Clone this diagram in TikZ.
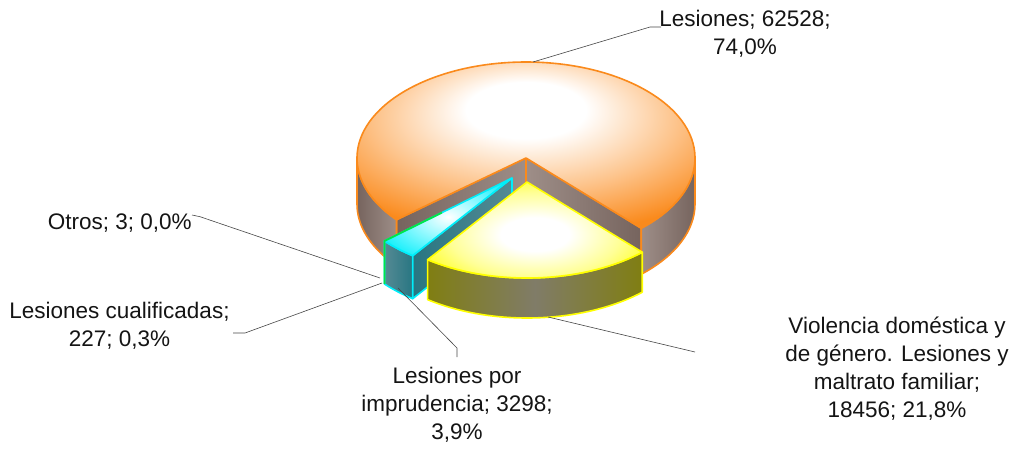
\documentclass[tikz,border=0pt]{standalone}
\usepackage{fontspec}
\setmainfont{Liberation Sans}
\usetikzlibrary{calc}

\definecolor{orgA}{RGB}{250,138,28}
\definecolor{orgM}{RGB}{253,196,140}
\definecolor{orgS}{RGB}{118,100,94}
\definecolor{orgSL}{RGB}{158,142,136}
\definecolor{yelA}{RGB}{255,255,0}
\definecolor{yelM}{RGB}{255,255,150}
\definecolor{yelS}{RGB}{128,126,18}
\definecolor{yelSL}{RGB}{128,124,104}
\definecolor{cyaA}{RGB}{0,238,250}
\definecolor{cyaM}{RGB}{160,250,255}
\definecolor{cyaS}{RGB}{40,118,130}
\definecolor{cyaSL}{RGB}{85,138,148}
\definecolor{grnA}{RGB}{0,230,70}
\definecolor{leadc}{RGB}{70,70,70}
\definecolor{txt}{RGB}{20,20,20}

\pgfdeclareradialshading{orgtop}{\pgfpoint{0bp}{10bp}}{color(0bp)=(white); color(8bp)=(white); color(20bp)=(orgM); color(31bp)=(orgA); color(50bp)=(orgA)}
\pgfdeclareradialshading{yeltop}{\pgfpoint{0bp}{0bp}}{color(0bp)=(white); color(8bp)=(white); color(20bp)=(yelM); color(32bp)=(yelA); color(50bp)=(yelA)}
\pgfdeclareradialshading{cyatop}{\pgfpoint{0bp}{0bp}}{color(0bp)=(white); color(12bp)=(cyaM); color(32bp)=(cyaA); color(50bp)=(cyaA)}

\tikzset{
  lbl/.style={font=\fontsize{22.5pt}{28pt}\selectfont, align=center, inner sep=0pt, text=txt},
  leader/.style={draw=leadc, line width=0.6pt},
  glowo/.style={draw=orgA, line width=1.6pt, line join=round},
  glowy/.style={draw=yelA, line width=1.6pt, line join=round},
  glowc/.style={draw=cyaA, line width=1.6pt, line join=round},
  ell/.style={x radius=169, y radius=96},
}

\begin{document}
\begin{tikzpicture}[x=1pt,y=1pt]
\useasboundingbox (0,0) rectangle (1011,-450);

% ---------- orange slice (Lesiones) ----------
\coordinate (O) at (526,-158);
\coordinate (Od) at (526,-204);
\path (O) ++(-47:169 and 96) coordinate (OR);
\path (O) ++(220:169 and 96) coordinate (OL);
\path (O) ++(180:169 and 96) coordinate (OW);
% radial faces
\shade[left color=orgSL, right color=orgS, glowo] (O) -- (OR) -- ++(0,-46) -- (Od) -- cycle;
\shade[left color=orgS, right color=orgSL, glowo] (O) -- (OL) -- ++(0,-46) -- (Od) -- cycle;
% outer curved sides
\shade[left color=orgS, right color=orgSL, glowo] (OW) arc[start angle=180, end angle=220, ell] -- ++(0,-46) arc[start angle=220, end angle=180, ell] -- cycle;
\shade[left color=orgSL, right color=orgS, glowo] (OR) arc[start angle=-47, end angle=0, ell] -- ++(0,-46) arc[start angle=0, end angle=-47, ell] -- cycle;
% top
\path[shading=orgtop, glowo] (O) -- (OR) arc[start angle=-47, end angle=220, ell] -- cycle;

% ---------- cyan slice (imprudencia) ----------
\coordinate (C) at (512,-178);
\coordinate (Cd) at (512,-221);
\path (C) ++(-139:169 and 96) coordinate (CL);
\path (C) ++(-126:169 and 96) coordinate (CR);
\shade[left color=cyaS, right color=cyaSL, glowc] (C) -- (CR) -- ++(0,-43) -- (Cd) -- cycle;
\shade[left color=cyaSL, right color=cyaS, glowc] (CL) arc[start angle=-139, end angle=-126, ell] -- ++(0,-43) arc[start angle=-126, end angle=-139, ell] -- cycle;
\path[shading=cyatop, glowc] (C) -- (CL) arc[start angle=-139, end angle=-126, ell] -- cycle;
% green thin slice (cualificadas / otros)
\draw[grnA, line width=1.8pt, line join=round] ($(C)!0.55!(CL)$) -- (CL) -- ++(0,-43);

% ---------- yellow slice (Violencia) ----------
\coordinate (Y) at (527,-182);
\path (Y) ++(-126:169 and 96) coordinate (YL);
\path (Y) ++(-47:169 and 96) coordinate (YR);
\shade[left color=yelS, right color=yelS, middle color=yelSL, glowy] (YL) arc[start angle=-126, end angle=-47, ell] -- ++(0,-40) arc[start angle=-47, end angle=-126, ell] -- cycle;
\path[shading=yeltop, glowy] (Y) -- (YL) arc[start angle=-126, end angle=-47, ell] -- cycle;

% ---------- labels ----------
\node[lbl] (t1) at (745,-34) {Lesiones; 62528;\\74,0\%};
\node[lbl] (t2) at (119.7,-222.7) {Otros; 3; 0,0\%};
\node[lbl] (t3) at (119.5,-326) {Lesiones cualificadas;\\227; 0,3\%};
\node[lbl] (t4) at (457,-405) {Lesiones por\\imprudencia; 3298;\\3,9\%};
\node[lbl] (t5) at (897,-369) {Violencia doméstica y\\de género. Lesiones y\\maltrato familiar;\\18456; 21,8\%};

% ---------- leaders ----------
\coordinate (p1) at (533,-62);  \coordinate (k1) at (650,-27);  \coordinate (e1) at (661,-27);
\coordinate (e2) at (192,-215); \coordinate (k2) at (200,-216.7); \coordinate (p2) at (380,-278);
\coordinate (e3) at (233,-333); \coordinate (k3) at (245,-333); \coordinate (p3) at (382,-283);
\coordinate (p4) at (398,-288); \coordinate (k4) at (457,-348); \coordinate (e4) at (457,-357);
\coordinate (p5) at (548,-317); \coordinate (e5) at (695,-352);
\draw[leader] (p1) -- (k1) -- (e1);
\draw[leader] (e2) -- (k2) -- (p2);
\draw[leader] (e3) -- (k3) -- (p3);
\draw[leader] (p4) -- (k4) -- (e4);
\draw[leader] (p5) -- (e5);
\end{tikzpicture}
\end{document}
